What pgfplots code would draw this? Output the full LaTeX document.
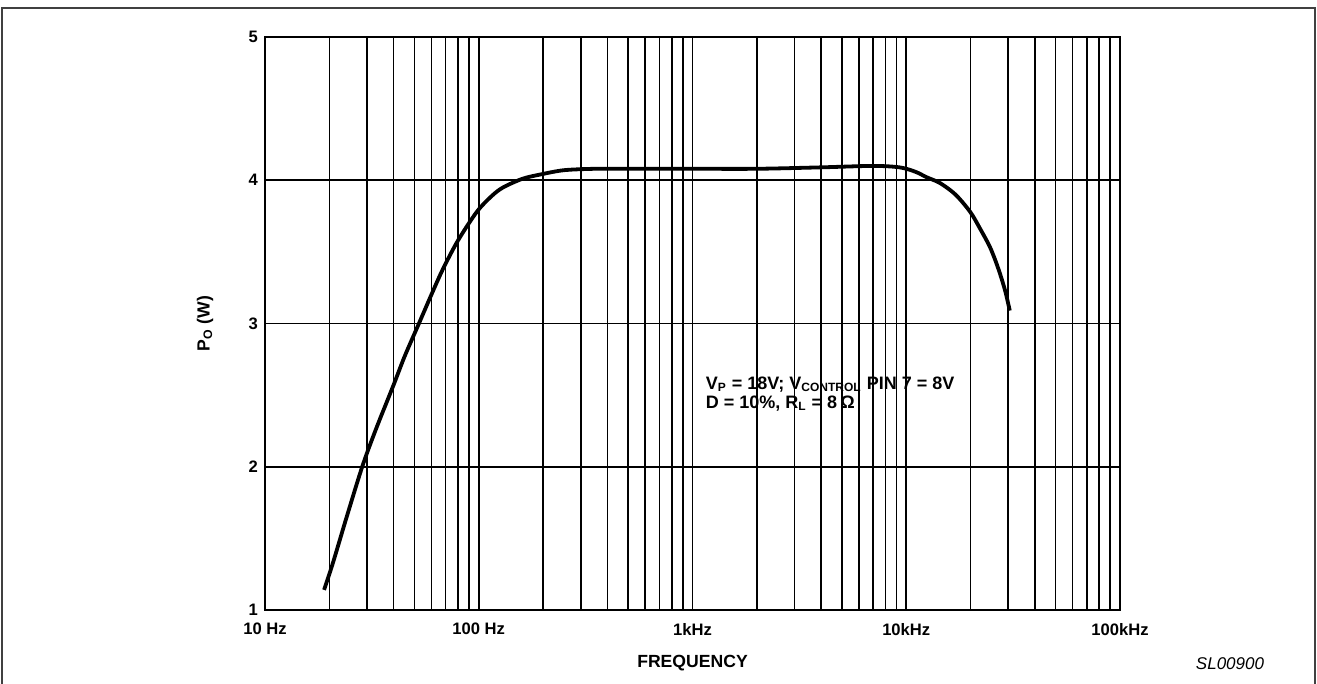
\documentclass[border=0pt]{standalone}
\usepackage{fontspec}
\setmainfont{Liberation Sans}
\usepackage{pgfplots}
\pgfplotsset{compat=1.18}
\begin{document}
\begin{tikzpicture}
\useasboundingbox (-132.5pt,-37pt) rectangle (526pt,305pt);
\draw[line width=1pt, black!75] (-131.5pt,-45pt) rectangle (525pt,301pt);
\begin{axis}[
  at={(0pt,0pt)}, anchor=south west,
  scale only axis,
  width=427.5pt, height=286.5pt,
  xmode=log, log basis x=10,
  xmin=10, xmax=100000, ymin=1, ymax=5,
  xtick={10,100,1000,10000,100000},
  xticklabels={10 Hz,100 Hz,1kHz,10kHz,100kHz},
  minor xtick={20,30,40,50,60,70,80,90,200,300,400,500,600,700,800,900,2000,3000,4000,5000,6000,7000,8000,9000,20000,30000,40000,50000,60000,70000,80000,90000},
  ytick={1,2,3,4,5},
  major tick length=0pt, minor tick length=0pt,
  xmajorgrids, xminorgrids, ymajorgrids,
  major grid style={black, line width=0.8pt},
  minor grid style={black, line width=0.8pt},
  axis line style={line width=1.4pt},
  /pgf/number format/assume math mode=true,
  tick label style={font=\fontsize{8.3}{10}\selectfont\bfseries},
  xticklabel style={yshift=-3pt},
  every axis x label/.append style={at={(axis description cs:0.5,-0.0925)},anchor=center,font=\fontsize{8.8}{10}\selectfont\bfseries},
  every axis y label/.append style={at={(axis description cs:-0.07,0.5)},anchor=center,font=\fontsize{8.8}{10}\selectfont\bfseries},
  xlabel={FREQUENCY},
  ylabel={P\textsubscript{O} (W)},
  clip=false,
]
\addplot[black, line width=1.9pt, smooth] coordinates {
(18.9,1.14) (20.8,1.33) (24,1.64) (28.5,2.0) (33,2.26) (39.7,2.56) (45,2.77)
(52.5,3.0) (60,3.2) (68,3.38) (80,3.58) (98,3.78) (115,3.89) (130,3.95)
(160,4.01) (194,4.04) (250,4.07) (350,4.08) (500,4.08) (1000,4.08) (2000,4.08)
(4000,4.09) (7000,4.10) (9300,4.09) (11000,4.06) (12500,4.02) (14400,3.98)
(17000,3.90) (19900,3.78) (22000,3.67) (24700,3.53) (27000,3.38) (29000,3.23)
(30500,3.09)
};
\node[anchor=west, align=left, font=\fontsize{9}{9.5}\selectfont\bfseries, inner sep=0pt]
  at (axis cs:1150,2.51) {V\textsubscript{P} = 18V; V\textsubscript{CONTROL} PIN 7 = 8V\\D = 10\%, R\textsubscript{L} = 8\,Ω};
\end{axis}
\node[font=\fontsize{8.5}{10}\selectfont\itshape] at (482.5pt,-27pt) {SL00900};
\end{tikzpicture}
\end{document}
